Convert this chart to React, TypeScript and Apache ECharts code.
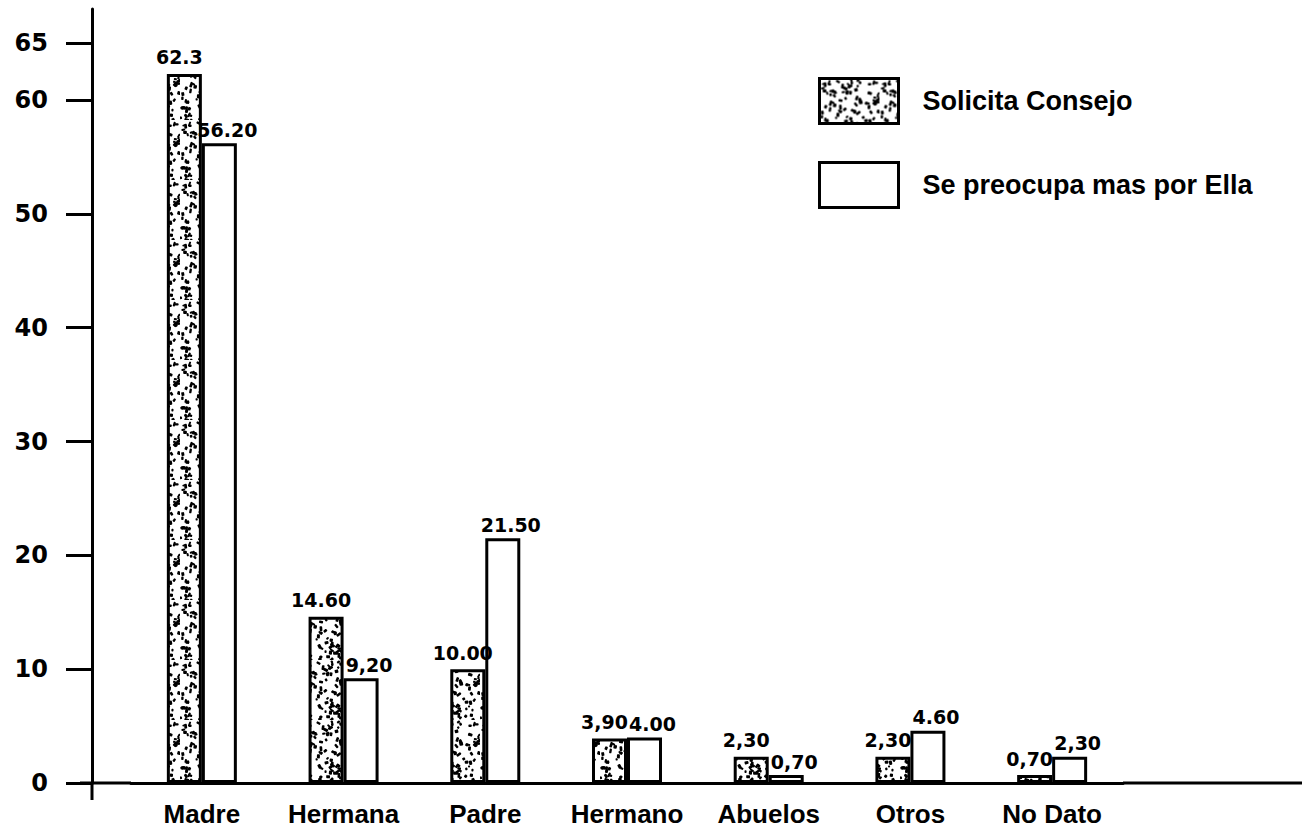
import React, { useEffect, useRef } from "react";
import * as echarts from "echarts";

const categories = ["Madre", "Hermana", "Padre", "Hermano", "Abuelos", "Otros", "No Dato"];
const solicitaValues = [62.3, 14.6, 10.0, 3.9, 2.3, 2.3, 0.7];
const preocupaValues = [56.2, 9.2, 21.5, 4.0, 0.7, 4.6, 2.3];
const solicitaLabels = ["62.3", "14.60", "10.00", "3,90", "2,30", "2,30", "0,70"];
const preocupaLabels = ["56.20", "9,20", "21.50", "4.00", "0,70", "4.60", "2,30"];
const yTickValues = [0, 10, 20, 30, 40, 50, 60, 65];
const seriesNames = ["Solicita Consejo", "Se preocupa mas por Ella"];

// Texture for the stippled bars (styling only, deterministic)
function makeStipple(): string {
  let s = 4271;
  const rnd = () => {
    s = (s * 16807) % 2147483647;
    return s / 2147483647;
  };
  const size = 60;
  let marks = "";
  for (let i = 0; i < 120; i++) {
    const x = rnd() * size;
    const y = rnd() * size;
    const w = 2.0 + rnd() * 3.2;
    const h = 1.8 + rnd() * 1.6;
    const a = Math.floor(rnd() * 180);
    marks += `<rect x='${(x - w / 2).toFixed(1)}' y='${(y - h / 2).toFixed(1)}' width='${w.toFixed(1)}' height='${h.toFixed(1)}' rx='0.8' transform='rotate(${a} ${x.toFixed(1)} ${y.toFixed(1)})' fill='black'/>`;
  }
  const svg = `<svg xmlns='http://www.w3.org/2000/svg' width='${size}' height='${size}'><rect width='${size}' height='${size}' fill='white'/>${marks}</svg>`;
  return "data:image/svg+xml;charset=utf-8," + encodeURIComponent(svg);
}

export default function App() {
  const ref = useRef<HTMLDivElement>(null);
  useEffect(() => {
    if (!ref.current) return;
    const chart = echarts.init(ref.current, undefined, { renderer: "svg" });
    const stipple = {
      image: makeStipple(),
      repeat: "repeat",
      imageWidth: 60,
      imageHeight: 60,
    } as any;
    const labelFont = {
      fontFamily: "DejaVu Sans",
      fontWeight: "bold",
      fontSize: 19,
      color: "#000",
    };
    chart.setOption({
      animation: false,
      backgroundColor: "#fff",
      grid: { left: 131, right: 183, top: 9, bottom: 47, containLabel: false },
      legend: {
        orient: "vertical",
        left: 813,
        top: 72,
        itemWidth: 79,
        itemHeight: 45,
        itemGap: 36,
        icon: "rect",
        data: seriesNames,
        itemStyle: { borderColor: "#000", borderWidth: 3 },
        textStyle: {
          fontFamily: "Liberation Sans",
          fontWeight: "bold",
          fontSize: 27,
          color: "#000",
          padding: [0, 0, 0, 19],
        },
      },
      xAxis: {
        type: "category",
        data: categories,
        axisLine: { show: true, lineStyle: { color: "#000", width: 3 } },
        axisTick: { show: false },
        axisLabel: {
          interval: 0,
          fontFamily: "Liberation Sans",
          fontWeight: "bold",
          fontSize: 26,
          color: "#000",
          margin: 18,
        },
        splitLine: { show: false },
      },
      yAxis: {
        type: "value",
        min: 0,
        max: 68,
        offset: 39,
        axisLine: { show: true, lineStyle: { color: "#000", width: 3 } },
        axisTick: {
          show: true,
          length: 26,
          lineStyle: { color: "#000", width: 3 },
          customValues: yTickValues,
        },
        axisLabel: {
          fontFamily: "DejaVu Sans",
          fontWeight: "bold",
          fontSize: 24,
          color: "#000",
          margin: 44,
          customValues: yTickValues,
        },
        splitLine: { show: false },
      },
      graphic: [
        { type: "line", shape: { x1: 80, y1: 783, x2: 131, y2: 783 }, style: { stroke: "#000", lineWidth: 3 } },
        { type: "line", shape: { x1: 1123, y1: 783, x2: 1302, y2: 783 }, style: { stroke: "#000", lineWidth: 3 } },
        { type: "line", shape: { x1: 92, y1: 783, x2: 92, y2: 800 }, style: { stroke: "#000", lineWidth: 3 } },
      ],
      series: [
        {
          type: "bar",
          name: seriesNames[0],
          data: solicitaValues,
          barWidth: 35,
          barGap: "0%",
          itemStyle: { color: stipple, borderColor: "#000", borderWidth: 3 },
          label: {
            show: true,
            position: "top",
            distance: 7,
            offset: [-5, 0],
            formatter: (p: any) => solicitaLabels[p.dataIndex],
            ...labelFont,
          },
        },
        {
          type: "bar",
          name: seriesNames[1],
          data: preocupaValues,
          barWidth: 35,
          barGap: "0%",
          itemStyle: { color: "#fff", borderColor: "#000", borderWidth: 3 },
          label: {
            show: true,
            position: "top",
            distance: 4,
            offset: [8, 0],
            formatter: (p: any) => preocupaLabels[p.dataIndex],
            ...labelFont,
          },
        },
      ],
    });
    return () => chart.dispose();
  }, []);
  return (
    <div
      ref={ref}
      style={{ position: "fixed", left: 0, top: 0, width: 1306, height: 830, background: "#fff" }}
    />
  );
}
